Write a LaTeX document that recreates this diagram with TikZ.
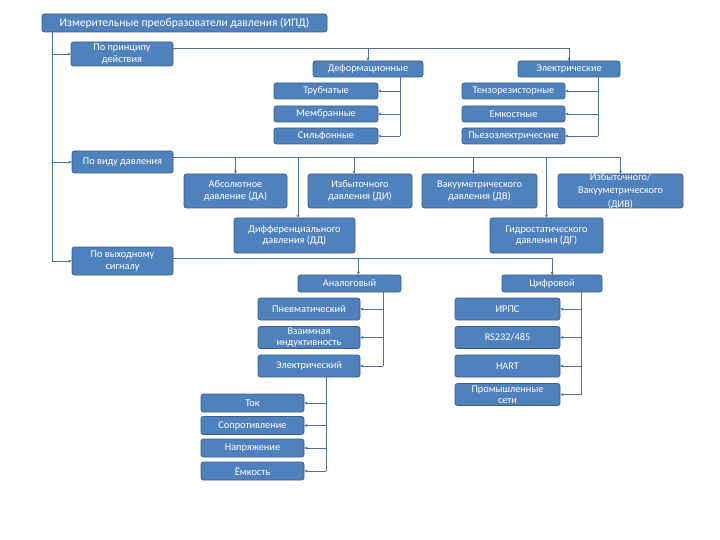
\documentclass[tikz,border=0pt]{standalone}
\usepackage{fontspec}
\setmainfont{Carlito}
\usetikzlibrary{arrows.meta}
\definecolor{boxfill}{HTML}{4F81BD}
\definecolor{boxline}{HTML}{385D8A}
\definecolor{conncol}{HTML}{4A6E9A}
\tikzset{
  box/.style={draw=boxline, fill=boxfill, rounded corners=2.5pt, line width=0.8pt,
    text=white, align=center, inner sep=0.5pt, font=\fontsize{10.3}{11.5}\selectfont},
  conn/.style={draw=conncol, line width=0.7pt},
  arr/.style={conn, -{Stealth[length=3pt,width=3pt]}},
}
\begin{document}
\begin{tikzpicture}[x=1pt,y=-1pt]
\useasboundingbox (0,0) rectangle (720,540);
% boxes
\node[box, minimum width=285, minimum height=18, font=\fontsize{11.6}{12.5}\selectfont] (top) at (184.5,23) {Измерительные преобразователи давления (ИПД)};
\node[box, minimum width=102, minimum height=24] (pp) at (122,54) {По принципу\\действия};
\node[box, minimum width=110, minimum height=16] (def) at (368,69) {Деформационные};
\node[box, minimum width=102, minimum height=16] (el) at (569,69) {Электрические};
\node[box, minimum width=104, minimum height=16] (tr) at (326,91) {Трубчатые};
\node[box, minimum width=104, minimum height=16] (mem) at (326,114) {Мембранные};
\node[box, minimum width=104, minimum height=16] (sil) at (326,136) {Сильфонные};
\node[box, minimum width=103, minimum height=16] (ten) at (513.5,91) {Тензорезисторные};
\node[box, minimum width=103, minimum height=16] (emk) at (513.5,114) {Емкостные};
\node[box, minimum width=103, minimum height=16] (pez) at (513.5,136) {Пьезоэлектрические};
\node[box, minimum width=101, minimum height=22] (pv) at (122.5,162) {По виду давления};
\node[box, minimum width=103, minimum height=34] (abs) at (235.5,191) {Абсолютное\\давление (ДА)};
\node[box, minimum width=104, minimum height=34] (izb) at (360,191) {Избыточного\\давления (ДИ)};
\node[box, minimum width=115, minimum height=34] (vak) at (479.5,191) {Вакууметрического\\давления (ДВ)};
\node[box, minimum width=125, minimum height=34] (div) at (620.5,191) {};
\node[text=white, align=center, inner sep=0pt, font=\fontsize{10.3}{13.5}\selectfont] (divtext) at (div.center) {Избыточного/\\Вакууметрического\\(ДИВ)};
\node[box, minimum width=121, minimum height=35] (dd) at (294.5,235.5) {Дифференциального\\давления (ДД)};
\node[box, minimum width=113, minimum height=35] (dg) at (546.5,235.5) {Гидростатического\\давления (ДГ)};
\node[box, minimum width=101, minimum height=28] (ps) at (122.5,261) {По выходному\\сигналу};
\node[box, minimum width=103, minimum height=17] (an) at (349.5,283.5) {Аналоговый};
\node[box, minimum width=100, minimum height=17] (cif) at (552,283.5) {Цифровой};
\node[box, minimum width=102, minimum height=22] (pn) at (309,309) {Пневматический};
\node[box, minimum width=102, minimum height=22] (vz) at (309,337.5) {Взаимная\\индуктивность};
\node[box, minimum width=102, minimum height=22] (elc) at (309,366) {Электрический};
\node[box, minimum width=105, minimum height=22] (irps) at (507.5,309) {ИРПС};
\node[box, minimum width=105, minimum height=22] (rs) at (507.5,337.5) {RS232/485};
\node[box, minimum width=105, minimum height=22] (hart) at (507.5,366) {HART};
\node[box, minimum width=105, minimum height=22] (prom) at (507.5,394.5) {Промышленные\\сети};
\node[box, minimum width=103, minimum height=18] (tok) at (252.5,403) {Ток};
\node[box, minimum width=103, minimum height=18] (sop) at (252.5,425.5) {Сопротивление};
\node[box, minimum width=103, minimum height=18] (nap) at (252.5,448) {Напряжение};
\node[box, minimum width=103, minimum height=18] (em2) at (252.5,471) {Ёмкость};
% helper coordinates
\coordinate (sp) at (52,0);
\coordinate (b1) at (0,48);
\coordinate (b2) at (0,157);
\coordinate (b3) at (0,258);
\coordinate (k1) at (400,0);
\coordinate (k2) at (598,0);
\coordinate (k3) at (383,0);
\coordinate (k4) at (581,0);
\coordinate (k5) at (326,0);
% main spine
\draw[conn] (sp |- top.south) -- (sp |- ps.west);
\draw[arr] (sp |- pp.west) -- (pp.west);
\draw[arr] (sp |- pv.west) -- (pv.west);
\draw[arr] (sp |- ps.west) -- (ps.west);
% principle
\draw[conn] (pp.east |- b1) -| ([yshift=-4]el.north);
\draw[arr] (def.north |- b1) -- (def.north);
\draw[arr] (el.north |- b1) -- (el.north);
\draw[conn] (k1 |- def.south) -- (k1 |- sil.east);
\draw[arr] (k1 |- tr.east) -- (tr.east);
\draw[arr] (k1 |- mem.east) -- (mem.east);
\draw[arr] (k1 |- sil.east) -- (sil.east);
\draw[conn] (k2 |- el.south) -- (k2 |- pez.east);
\draw[arr] (k2 |- ten.east) -- (ten.east);
\draw[arr] (k2 |- emk.east) -- (emk.east);
\draw[arr] (k2 |- pez.east) -- (pez.east);
% pressure type
\draw[conn] (pv.east |- b2) -| ([yshift=-4]div.north);
\draw[arr] (abs.north |- b2) -- (abs.north);
\draw[arr] ([xshift=-6]izb.north |- b2) -- ([xshift=-6]izb.north);
\draw[arr] ([xshift=-6]vak.north |- b2) -- ([xshift=-6]vak.north);
\draw[arr] (div.north |- b2) -- (div.north);
\draw[arr] ([xshift=3.5]dd.north |- b2) -- ([xshift=3.5]dd.north);
\draw[arr] (dg.north |- b2) -- (dg.north);
% output signal
\draw[conn] (ps.east |- b3) -| ([yshift=-4]cif.north);
\draw[arr] ([xshift=9]an.north |- b3) -- ([xshift=9]an.north);
\draw[arr] (cif.north |- b3) -- (cif.north);
\draw[conn] (k3 |- an.south) -- (k3 |- elc.east);
\draw[arr] (k3 |- pn.east) -- (pn.east);
\draw[arr] (k3 |- vz.east) -- (vz.east);
\draw[arr] (k3 |- elc.east) -- (elc.east);
\draw[conn] (k4 |- cif.south) -- (k4 |- prom.east);
\draw[arr] (k4 |- irps.east) -- (irps.east);
\draw[arr] (k4 |- rs.east) -- (rs.east);
\draw[arr] (k4 |- hart.east) -- (hart.east);
\draw[arr] (k4 |- prom.east) -- (prom.east);
\draw[conn] (k5 |- elc.south) -- (k5 |- em2.east);
\draw[arr] (k5 |- tok.east) -- (tok.east);
\draw[arr] (k5 |- sop.east) -- (sop.east);
\draw[arr] (k5 |- nap.east) -- (nap.east);
\draw[arr] (k5 |- em2.east) -- (em2.east);
\end{tikzpicture}
\end{document}
